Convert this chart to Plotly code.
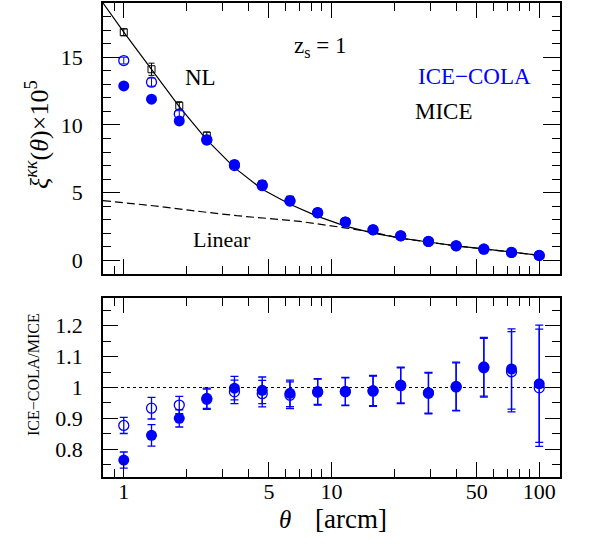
import plotly.graph_objects as go

# ---------------- data ----------------
theta = [1.0, 1.36, 1.85, 2.51, 3.41, 4.64, 6.31, 8.58, 11.66, 15.85,
         21.54, 29.29, 39.81, 54.12, 73.56, 100.0]

mice = [16.84, 14.11, 11.41, 9.22, 7.10, 5.63, 4.49, 3.57, 2.86, 2.28,
        1.81, 1.42, 1.08, 0.79, 0.56, 0.37]
mice_err = [0.25, 0.45, 0.30, 0.25, 0.2, 0.15, 0.12, 0.1, 0.08, 0.07,
            0.06, 0.05, 0.05, 0.04, 0.04, 0.04]

cola_fill = [12.88, 11.90, 10.30, 8.88, 7.08, 5.58, 4.40, 3.52, 2.83, 2.26,
             1.82, 1.40, 1.08, 0.84, 0.59, 0.37]
cola_open = [14.75, 13.16, 10.80, 8.90, 7.00, 5.52, 4.38, 3.52, 2.83, 2.26,
             1.82, 1.40, 1.08, 0.83, 0.59, 0.37]
cola_open_err = [0.25, 0.3, 0.25, 0.2, 0.15, 0.12, 0.1, 0.08, 0.07, 0.06,
                 0.05, 0.05, 0.04, 0.04, 0.03, 0.03]

ratio_fill = [0.765, 0.845, 0.900, 0.965, 0.998, 0.991, 0.981, 0.987, 0.988,
              0.990, 1.008, 0.983, 1.004, 1.067, 1.060, 1.012]
ratio_open = [0.877, 0.933, 0.943, 0.962, 0.986, 0.980, 0.975, 0.985, 0.986,
              0.988, 1.006, 0.981, 1.002, 1.064, 1.051, 0.999]
ratio_err = [0.026, 0.035, 0.028, 0.033, 0.038, 0.043, 0.043, 0.042, 0.045,
             0.049, 0.058, 0.066, 0.078, 0.095, 0.130, 0.190]

nl_theta = [0.794, 1.0, 1.36, 1.85, 2.51, 3.41, 4.64, 6.31, 8.58, 11.66,
            15.85, 21.54, 29.29, 39.81, 54.12, 73.56, 100.0, 105.0]
nl_xi = [19.0, 16.85, 14.1, 11.35, 8.9, 6.85, 5.25, 4.15, 3.25, 2.53,
         2.02, 1.65, 1.36, 1.08, 0.86, 0.61, 0.37, 0.34]

lin_theta = [0.794, 1.0, 1.5, 2.33, 3.5, 5.86, 7.05, 11.8, 16.5, 21.54,
             29.29, 39.81, 54.12, 73.56, 100.0, 105.0]
lin_xi = [4.42, 4.28, 3.98, 3.61, 3.30, 3.00, 2.88, 2.39, 2.02, 1.64,
          1.35, 1.07, 0.85, 0.61, 0.37, 0.34]

x_major = [1, 5, 10, 50, 100]
x_major_text = ["1", "5", "10", "50", "100"]
x_minor = [0.8, 0.9, 2, 3, 4, 6, 7, 8, 9, 20, 30, 40, 60, 70, 80, 90]
y1_major = [0, 5, 10, 15]
y2_major = [0.8, 0.9, 1.0, 1.1, 1.2]
y2_major_text = ["0.8", "0.9", "1", "1.1", "1.2"]
y2_minor = [0.75, 0.85, 0.95, 1.05, 1.15, 1.25]

BLUE = "#0000ff"
FONT = "Liberation Serif"

fig = go.Figure()

# ---- top panel ----
fig.add_trace(go.Scatter(x=nl_theta, y=nl_xi, mode="lines",
                         line=dict(color="black", width=1.2),
                         xaxis="x", yaxis="y", showlegend=False))
fig.add_trace(go.Scatter(x=lin_theta, y=lin_xi, mode="lines",
                         line=dict(color="black", width=1.2, dash="8px,4px"),
                         xaxis="x", yaxis="y", showlegend=False))
fig.add_trace(go.Scatter(x=theta, y=mice, mode="markers",
                         marker=dict(symbol="square-open", size=7,
                                     color="black", line=dict(width=1)),
                         error_y=dict(type="data", array=mice_err, color="black",
                                      thickness=1, width=3),
                         xaxis="x", yaxis="y", showlegend=False))
fig.add_trace(go.Scatter(x=theta, y=cola_open, mode="markers",
                         marker=dict(symbol="circle-open", size=10,
                                     color=BLUE, line=dict(width=1.3)),
                         error_y=dict(type="data", array=cola_open_err, color=BLUE,
                                      thickness=1, width=4),
                         xaxis="x", yaxis="y", showlegend=False))
fig.add_trace(go.Scatter(x=theta, y=cola_fill, mode="markers",
                         marker=dict(symbol="circle", size=11, color=BLUE),
                         xaxis="x", yaxis="y", showlegend=False))

# ---- bottom panel ----
fig.add_trace(go.Scatter(x=theta, y=ratio_open, mode="markers",
                         marker=dict(symbol="circle-open", size=10,
                                     color=BLUE, line=dict(width=1.3)),
                         error_y=dict(type="data", array=ratio_err, color=BLUE,
                                      thickness=1.3, width=4),
                         xaxis="x2", yaxis="y2", showlegend=False))
fig.add_trace(go.Scatter(x=theta, y=ratio_fill, mode="markers",
                         marker=dict(symbol="circle", size=11, color=BLUE),
                         error_y=dict(type="data", array=ratio_err, color=BLUE,
                                      thickness=1.3, width=4),
                         xaxis="x2", yaxis="y2", showlegend=False))

axis_common = dict(showline=True, linecolor="black", linewidth=1.5,
                   mirror="allticks", ticks="inside", tickcolor="black",
                   tickwidth=1.2, showgrid=False, zeroline=False,
                   automargin=False,
                   tickfont=dict(family=FONT, size=22, color="black"))

xr = [-0.1, 2.1]
fig.update_layout(
    width=592, height=548,
    margin=dict(l=103, r=32, t=3, b=71, autoexpand=False),
    paper_bgcolor="white", plot_bgcolor="white",
    xaxis=dict(type="log", range=xr, domain=[0, 1], anchor="y",
               tickmode="array", tickvals=x_major, ticktext=x_major_text,
               ticklen=15, showticklabels=False,
               minor=dict(tickmode="array", tickvals=x_minor, ticklen=8,
                          ticks="inside", tickcolor="black", tickwidth=1.2),
               **axis_common),
    yaxis=dict(range=[-1, 19], domain=[0.4283, 1], anchor="x",
               tickmode="array", tickvals=y1_major, ticklen=17,
               ticklabelstandoff=14,
               minor=dict(tick0=0, dtick=1, ticklen=8, ticks="inside",
                          tickcolor="black", tickwidth=1.2),
               **axis_common),
    xaxis2=dict(type="log", range=xr, domain=[0, 1], anchor="y2",
                tickmode="array", tickvals=x_major, ticktext=x_major_text,
                ticklen=15, ticklabelstandoff=-6,
                minor=dict(tickmode="array", tickvals=x_minor, ticklen=8,
                           ticks="inside", tickcolor="black", tickwidth=1.2),
                **axis_common),
    yaxis2=dict(range=[0.71, 1.29], domain=[0, 0.3776], anchor="x2",
                tickmode="array", tickvals=y2_major, ticktext=y2_major_text,
                ticklen=15, ticklabelstandoff=14,
                minor=dict(tickmode="array", tickvals=y2_minor, ticklen=8,
                           ticks="inside", tickcolor="black", tickwidth=1.2),
                **axis_common),
)

fig.add_shape(type="line", xref="x2 domain", yref="y2", x0=0, x1=1, y0=1, y1=1,
              line=dict(color="black", width=1.2, dash="dot"))

ann = []
def txt(x, y, s, size=22, color="black", angle=0):
    ann.append(dict(x=x, y=y, xref="paper", yref="paper", text=s, showarrow=False,
                    font=dict(family=FONT, size=size, color=color),
                    textangle=angle, xanchor="center", yanchor="middle"))

W, H = 457.0, 474.0
def px(x, y):
    return (x - 103) / W, 1 - (y - 3) / H

txt(*px(320, 47), "z<sub>s</sub> = 1", size=23)
txt(*px(474, 77), "ICE\u2212COLA", size=23, color=BLUE)
txt(*px(444, 111), "MICE", size=23)
txt(*px(200, 78), "NL", size=23)
txt(*px(222, 239), "Linear", size=22)
txt(*px(285, 519), "<i>θ</i>", size=25)
txt(*px(351, 519), "[arcm]", size=27)
txt(*px(38, 135), "<i>ξ</i><sup><i>κκ</i></sup>(<i>θ</i>)×10<sup>5</sup>", size=26, angle=-90)
txt(*px(33, 375), "ICE\u2212COLA/MICE", size=16, angle=-90)
fig.update_layout(annotations=ann)

fig.write_html("out.html", config={"displayModeBar": False},
               post_script="document.body.style.margin='0';")
